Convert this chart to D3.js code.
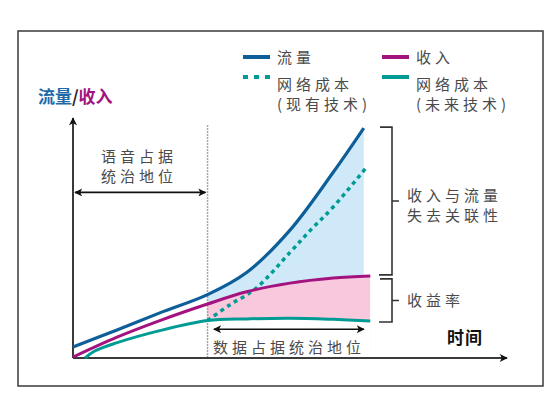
<!DOCTYPE html>
<html>
<head>
<meta charset="utf-8">
<script src="https://cdn.jsdelivr.net/npm/d3@7"></script>
<style>
  body { margin: 0; background: #fff; }
  text { font-family: "Noto Sans CJK SC", "Noto Sans", sans-serif; }
</style>
</head>
<body>
<script>
// series (time 0..100, value 0..100)
var trafficTime = [0, 10, 20, 31, 40, 50, 60, 67];
var trafficValue = [4.6, 11.6, 18.8, 26.4, 35.6, 53.3, 77.5, 95.8];

var revenueTime = [0, 10, 20, 31, 40, 50, 60, 68.5];
var revenueValue = [0.4, 8.6, 15.6, 22.5, 27.6, 31.2, 33.3, 34.2];

var futureCostTime = [2.8, 5, 10, 20, 31, 40, 50, 60, 68.5];
var futureCostValue = [0, 2.9, 6.3, 11.4, 15.6, 16.3, 16.6, 16.1, 15.4];

var currentCostTime = [31, 36, 42, 50, 55, 60, 67.5];
var currentCostValue = [15.6, 22.0, 28.8, 44.0, 53.8, 63.0, 79.2];

var dataEra = 31;          // voice -> data switch
var voiceArrowLevel = 69;  // height of the upper double arrow
var dataArrowLevel = 12;   // height of the lower double arrow

var legendLabels = [["流量"], ["收入"], ["网络成本", "(现有技术)"], ["网络成本", "(未来技术)"]];

var blue = "#0d5e99";
var magenta = "#a3137f";
var teal = "#009b94";
var lightBlue = "#cfe9f9";
var pink = "#f8c8dc";
var grey = "#4a4a4a";

var width = 550, height = 410;

var svg = d3.select("body").append("svg")
    .attr("width", width)
    .attr("height", height);

svg.append("rect").attr("width", width).attr("height", height).attr("fill", "#fff");

// frame
svg.append("rect")
    .attr("x", 18).attr("y", 31).attr("width", 525).attr("height", 355)
    .attr("fill", "none").attr("stroke", "#3a3a3a").attr("stroke-width", 1.5);

var x = d3.scaleLinear().domain([0, 100]).range([73, 507]);
var y = d3.scaleLinear().domain([0, 100]).range([358, 118]);

function zip(t, v) { return t.map(function (d, i) { return [d, v[i]]; }); }
var traffic = zip(trafficTime, trafficValue);
var revenue = zip(revenueTime, revenueValue);
var futureCost = zip(futureCostTime, futureCostValue);
var currentCost = zip(currentCostTime, currentCostValue);

var defs = svg.append("defs");
defs.append("marker")
    .attr("id", "arrow")
    .attr("viewBox", "0 0 10 10")
    .attr("refX", 9).attr("refY", 5)
    .attr("markerWidth", 11).attr("markerHeight", 8)
    .attr("markerUnits", "userSpaceOnUse")
    .attr("orient", "auto-start-reverse")
    .append("path").attr("d", "M0,0 L10,5 L0,10 L2.5,5 Z").attr("fill", "#111");

var clipEnd = x(d3.max(revenueTime));
defs.append("clipPath").attr("id", "dataEra")
    .append("rect")
    .attr("x", x(dataEra)).attr("y", 0)
    .attr("width", clipEnd - x(dataEra)).attr("height", height);

var curve = d3.curveCatmullRom.alpha(0.5);

var line = d3.line()
    .x(function (d) { return x(d[0]); })
    .y(function (d) { return y(d[1]); })
    .curve(curve);

var area = d3.area()
    .x(function (d) { return x(d[0]); })
    .y0(y(0))
    .y1(function (d) { return y(d[1]); })
    .curve(curve);

// shaded bands (stacked: blue under traffic, pink under revenue, white under future cost)
var fills = svg.append("g").attr("clip-path", "url(#dataEra)");
fills.append("path").attr("d", area(traffic)).attr("fill", lightBlue);
fills.append("path").attr("d", area(revenue)).attr("fill", pink);
fills.append("path").attr("d", area(futureCost)).attr("fill", "#fff");

// separator between voice and data era
svg.append("line")
    .attr("x1", x(dataEra)).attr("x2", x(dataEra))
    .attr("y1", y(97)).attr("y2", y(0))
    .attr("stroke", "#8a8a8a").attr("stroke-width", 1.5)
    .attr("stroke-dasharray", "1.5,1.5");

// axes
svg.append("line")
    .attr("x1", x(0)).attr("y1", y(0)).attr("x2", x(0)).attr("y2", y(100))
    .attr("stroke", "#3a3a3a").attr("stroke-width", 2)
    .attr("marker-end", "url(#arrow)");
svg.append("line")
    .attr("x1", x(0)).attr("y1", y(0)).attr("x2", x(100)).attr("y2", y(0))
    .attr("stroke", "#3a3a3a").attr("stroke-width", 2)
    .attr("marker-end", "url(#arrow)");

// curves
svg.append("path").attr("d", line(futureCost))
    .attr("fill", "none").attr("stroke", teal).attr("stroke-width", 3);
svg.append("path").attr("d", line(currentCost))
    .attr("fill", "none").attr("stroke", teal).attr("stroke-width", 3.5)
    .attr("stroke-dasharray", "4,4");
svg.append("path").attr("d", line(revenue))
    .attr("fill", "none").attr("stroke", magenta).attr("stroke-width", 3);
svg.append("path").attr("d", line(traffic))
    .attr("fill", "none").attr("stroke", blue).attr("stroke-width", 3.2);

// double arrows
function doubleArrow(t0, t1, v) {
    svg.append("line")
        .attr("x1", x(t0) + 2).attr("x2", x(t1) - 2)
        .attr("y1", y(v)).attr("y2", y(v))
        .attr("stroke", "#111").attr("stroke-width", 1.6)
        .attr("marker-start", "url(#arrow)")
        .attr("marker-end", "url(#arrow)");
}
doubleArrow(0, dataEra, voiceArrowLevel);
doubleArrow(dataEra + 1, d3.max(currentCostTime), dataArrowLevel);

function label(px, py, txt, opts) {
    opts = opts || {};
    return svg.append("text")
        .attr("x", px).attr("y", py)
        .attr("dy", "0.36em")
        .attr("font-size", opts.size || 15)
        .attr("font-weight", opts.weight || "normal")
        .attr("letter-spacing", opts.spacing == null ? 4 : opts.spacing)
        .attr("fill", opts.color || grey)
        .text(txt);
}

label(101, 157, "语音占据");
label(101, 177, "统治地位");
label(213, y(dataArrowLevel) + 18, "数据占据统治地位");

// y title
var title = svg.append("text")
    .attr("x", 38).attr("y", 97).attr("dy", "0.36em")
    .attr("font-size", 17).attr("font-weight", "bold");
title.append("tspan").attr("fill", "#1f6aa6").text("流量");
title.append("tspan").attr("fill", "#222").text("/");
title.append("tspan").attr("fill", magenta).text("收入");

label(447, 338, "时间", {size: 17, weight: "bold", color: "#111", spacing: 1});

// legend
var legendPos = [[243, 57], [382, 57], [243, 77], [382, 77]];
var legendStyle = [
    {color: blue, dash: null},
    {color: magenta, dash: null},
    {color: teal, dash: "5,6"},
    {color: teal, dash: null}
];
legendLabels.forEach(function (lines, i) {
    var p = legendPos[i];
    svg.append("line")
        .attr("x1", p[0]).attr("x2", p[0] + 27)
        .attr("y1", p[1]).attr("y2", p[1])
        .attr("stroke", legendStyle[i].color)
        .attr("stroke-width", 4)
        .attr("stroke-dasharray", legendStyle[i].dash);
    lines.forEach(function (t, j) {
        var ty = lines.length > 1 ? 85 + j * 20 : 58;
        label(p[0] + 34, ty, t);
    });
});

// brackets on the right
var bx = 392;
var topY = y(d3.max(trafficValue)) - 1;
var midY = y(revenueValue[revenueValue.length - 1]);
var botY = y(futureCostValue[futureCostValue.length - 1]) + 1;

function bracket(y0, y1) {
    var m = (y0 + y1) / 2;
    svg.append("path")
        .attr("d", "M" + (bx - 12) + "," + y0 + "H" + bx + "V" + y1 + "H" + (bx - 13)
            + "M" + bx + "," + m + "H" + (bx + 7))
        .attr("fill", "none").attr("stroke", "#333").attr("stroke-width", 1.6);
    return m;
}
var m1 = bracket(topY, midY - 1);
var m2 = bracket(midY + 3, botY);

label(407, m1 - 5, "收入与流量");
label(407, m1 + 15, "失去关联性");
label(407, m2, "收益率");
</script>
</body>
</html>
